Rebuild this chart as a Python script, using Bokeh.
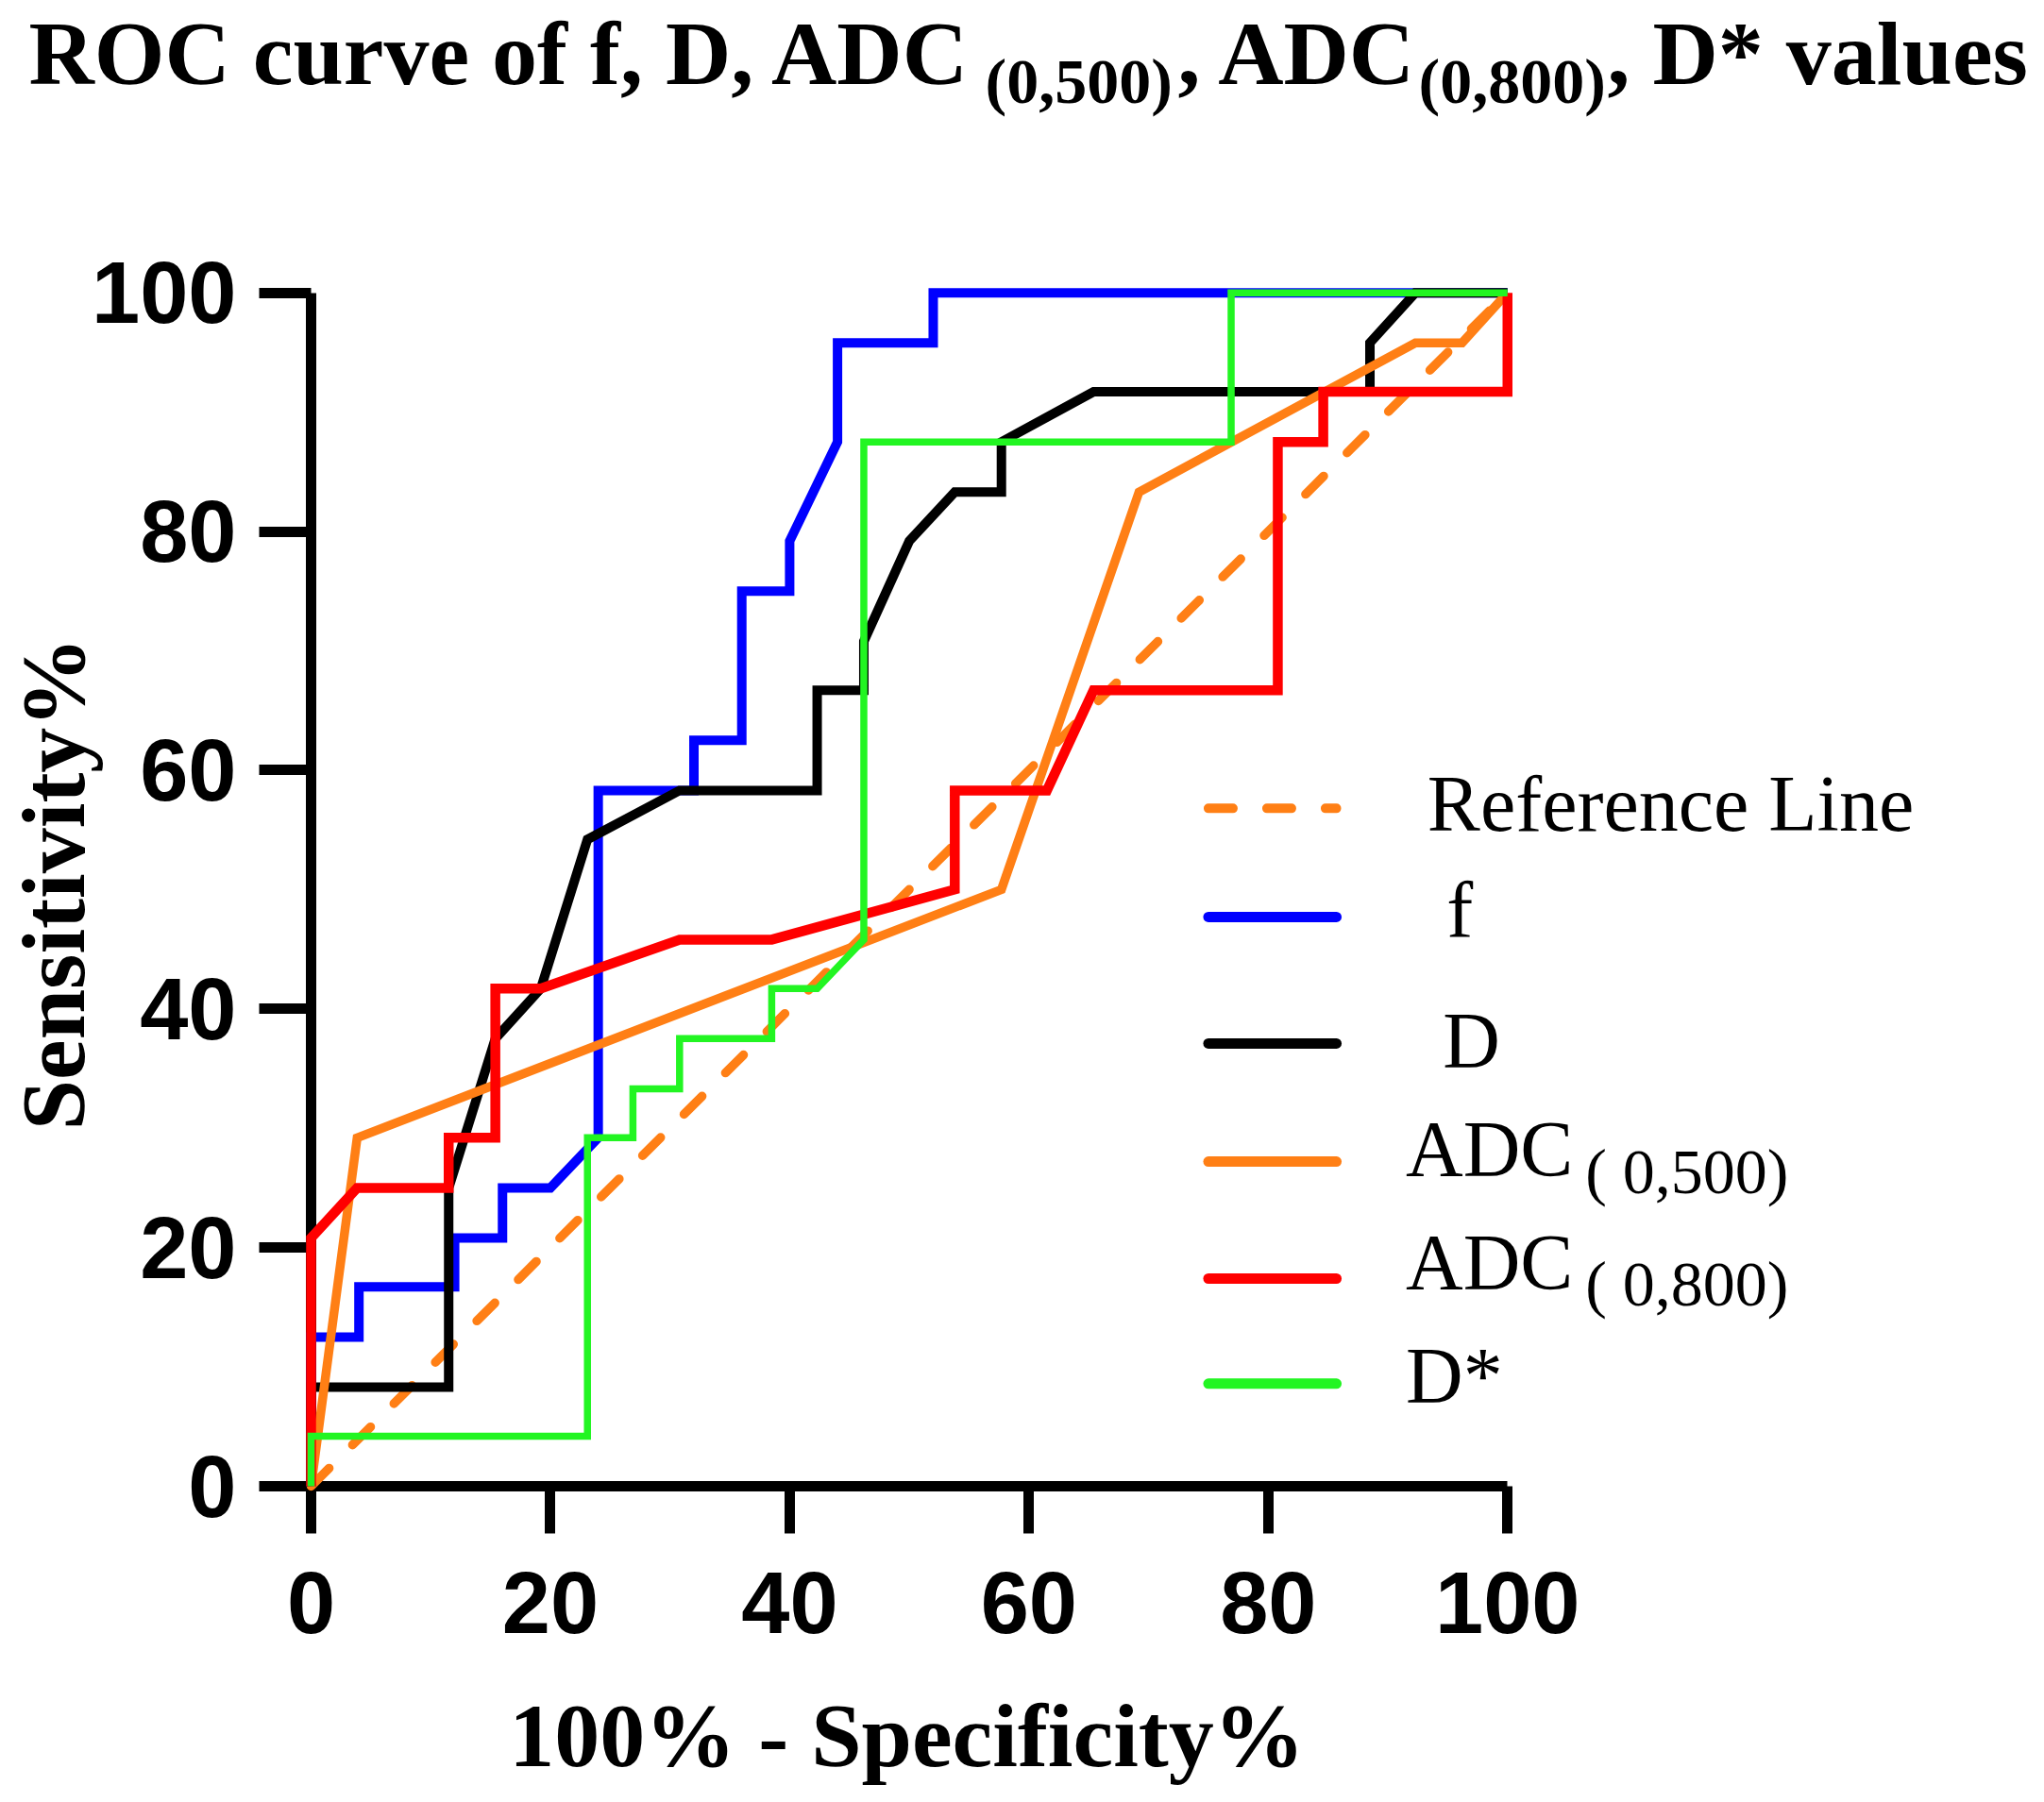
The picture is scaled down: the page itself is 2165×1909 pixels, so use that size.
from bokeh.plotting import figure
from bokeh.models import Range1d, FixedTicker, Label
from bokeh.layouts import column, row
from bokeh.core.properties import value
from bokeh.embed import file_html
from bokeh.resources import INLINE

# ---------------- data ----------------
ticks = [0, 20, 40, 60, 80, 100]

ref_x = [0, 100]
ref_y = [0, 100]

f_x = [0, 0, 4, 4, 12, 12, 16, 16, 20, 24, 24, 32, 32, 36, 36, 40, 40, 44, 44, 52, 52, 100]
f_y = [0, 12.5, 12.5, 16.7, 16.7, 20.8, 20.8, 25, 25, 29.2, 58.3, 58.3, 62.5, 62.5, 75, 75,
       79.2, 87.5, 95.8, 95.8, 100, 100]

d_x = [0, 0, 11.5, 11.5, 15.4, 19.2, 23.1, 30.8, 42.3, 42.3, 46.2, 46.2, 50, 53.8, 57.7, 57.7,
       65.4, 88.5, 88.5, 92.3, 100]
d_y = [0, 8.3, 8.3, 25, 37.5, 41.7, 54.2, 58.3, 58.3, 66.7, 66.7, 70.8, 79.2, 83.3, 83.3, 87.5,
       91.7, 91.7, 95.8, 100, 100]

adc500_x = [0, 3.85, 57.7, 69.2, 92.3, 96.2, 100]
adc500_y = [0, 29.2, 50, 83.3, 95.8, 95.8, 100]

adc800_x = [0, 0, 3.85, 11.5, 11.5, 15.4, 15.4, 19.2, 30.8, 38.5, 53.8, 53.8, 61.5, 65.4, 80.8,
            80.8, 84.6, 84.6, 100, 100]
adc800_y = [0, 20.8, 25, 25, 29.2, 29.2, 41.7, 41.7, 45.8, 45.8, 50, 58.3, 58.3, 66.7, 66.7,
            87.5, 87.5, 91.7, 91.7, 100]

dstar_x = [0, 0, 23.1, 23.1, 26.9, 26.9, 30.8, 30.8, 38.5, 38.5, 42.3, 46.2, 46.2, 76.9, 76.9, 100]
dstar_y = [0, 4.2, 4.2, 29.2, 29.2, 33.3, 33.3, 37.5, 37.5, 41.7, 41.7, 45.8, 87.5, 87.5, 100, 100]

series_names = ["Reference Line", "f", "D", "ADC", "ADC", "D*"]
series_subs = ["( 0,500)", "( 0,800)"]

# ---------------- styles ----------------
ORANGE = "#FF7F15"
BLUE = "#0000FF"
BLACK = "#000000"
RED = "#FF0000"
GREEN = "#22F522"

W = 2165
TITLE_H = 138
MAIN_H = 1642
XLAB_H = 125
K = 0.37  # baseline correction (fraction of font size)

SERIF = "Liberation Serif"
SANS = "Liberation Sans"

# ---------------- title ----------------
title_fig = figure(width=W, height=TITLE_H, x_range=Range1d(0, W), y_range=Range1d(0, TITLE_H),
                   min_border=0, toolbar_location=None, output_backend="svg",
                   x_axis_location=None, y_axis_location=None, outline_line_color=None)
title_fig.grid.visible = False
title_parts = [("ROC curve of f, D, ADC", 30, 92, 96),
               ("(0,500)", 1043, 111, 68),
               (", ADC", 1247, 92, 96),
               ("(0,800)", 1502, 111, 68),
               (", D* values", 1702, 92, 96)]
for txt, tx, base, fs in title_parts:
    title_fig.text(x=[tx], y=[TITLE_H - (base - K * fs)], text=[txt], text_font=value(SERIF),
                   text_font_style="bold", text_font_size=f"{fs}px", text_color="black",
                   text_align="left", text_baseline="alphabetic")

# ---------------- main plot ----------------
p = figure(width=W, height=MAIN_H, x_range=Range1d(0, 144.88), y_range=Range1d(0, 101),
           min_border_left=325, min_border_right=0, min_border_top=159, min_border_bottom=206,
           toolbar_location=None, output_backend="svg", outline_line_color=None)
p.grid.visible = False
PX_PER_Y = 1277 / 101.0

for ax in (p.xaxis, p.yaxis):
    ax.bounds = (0, 100)
    ax.ticker = FixedTicker(ticks=ticks)
    ax.axis_line_width = 11
    ax.axis_line_color = "black"
    ax.major_tick_line_width = 11
    ax.major_tick_line_color = "black"
    ax.major_tick_in = 0
    ax.minor_tick_line_color = None
    ax.major_label_text_font = SANS
    ax.major_label_text_font_style = "bold"
    ax.major_label_text_font_size = "92px"
    ax.major_label_text_color = "black"
    ax.axis_label_text_font = SERIF
    ax.axis_label_text_font_style = "bold"
    ax.axis_label_text_font_size = "96px"
    ax.axis_label_text_color = "black"

p.yaxis.major_tick_out = 55
p.yaxis.major_label_standoff = 24
p.yaxis.axis_label = "Sensitivity%"
p.yaxis.axis_label_standoff = -16

p.xaxis.major_tick_out = 50
p.xaxis.major_label_standoff = 41

# reference line (dashed)
p.line(ref_x, ref_y, line_color=ORANGE, line_width=9.5, line_dash="27 35", line_cap="round",
       level="overlay")

curves = [(f_x, f_y, BLUE, 10), (d_x, d_y, BLACK, 10), (adc500_x, adc500_y, ORANGE, 9.5),
          (adc800_x, adc800_y, RED, 10.5), (dstar_x, dstar_y, GREEN, 7.5)]
for xs, ys, col, lw in curves:
    p.line(xs, ys, line_color=col, line_width=lw, line_join="miter", level="overlay")

# legend (drawn manually to keep the subscripts)
leg_x0, leg_x1 = 75.0, 85.7
p.line([leg_x0, leg_x1], [56.8, 56.8], line_color=ORANGE, line_width=10, line_dash="26 36",
       line_cap="round")
leg_lines = [(47.7, BLUE), (37.1, BLACK), (27.2, ORANGE), (17.4, RED), (8.6, GREEN)]
for ly, col in leg_lines:
    p.line([leg_x0, leg_x1], [ly, ly], line_color=col, line_width=11, line_cap="round")

leg_texts = [(series_names[0], 93.3, 54.7, 84), (series_names[1], 94.9, 45.9, 84),
             (series_names[2], 94.6, 34.9, 84), (series_names[3], 91.5, 25.8, 84),
             (series_subs[0], 106.5, 24.4, 68), (series_names[4], 91.5, 16.3, 84),
             (series_subs[1], 106.5, 15.0, 68), (series_names[5], 91.5, 6.8, 84)]
for txt, tx, ty, fs in leg_texts:
    p.add_layout(Label(x=tx, y=ty + K * fs / PX_PER_Y, text=txt, text_font=SERIF,
                       text_font_size=f"{fs}px", text_color="black", text_align="left",
                       text_baseline="alphabetic"))

# ---------------- x-axis title (centred on the 0..100 axis) ----------------
xlab_fig = figure(width=W, height=XLAB_H, x_range=Range1d(0, W), y_range=Range1d(0, XLAB_H),
                  min_border=0, toolbar_location=None, output_backend="svg",
                  x_axis_location=None, y_axis_location=None, outline_line_color=None)
xlab_fig.grid.visible = False
xlab_fig.text(x=[960], y=[XLAB_H - (94 - K * 96)], text=["100% - Specificity%"],
              text_font=value(SERIF), text_font_style="bold", text_font_size="96px",
              text_color="black", text_align="center", text_baseline="alphabetic")

layout = column(row(title_fig), row(p), row(xlab_fig))
open("out.html", "w").write(file_html(layout, INLINE))
